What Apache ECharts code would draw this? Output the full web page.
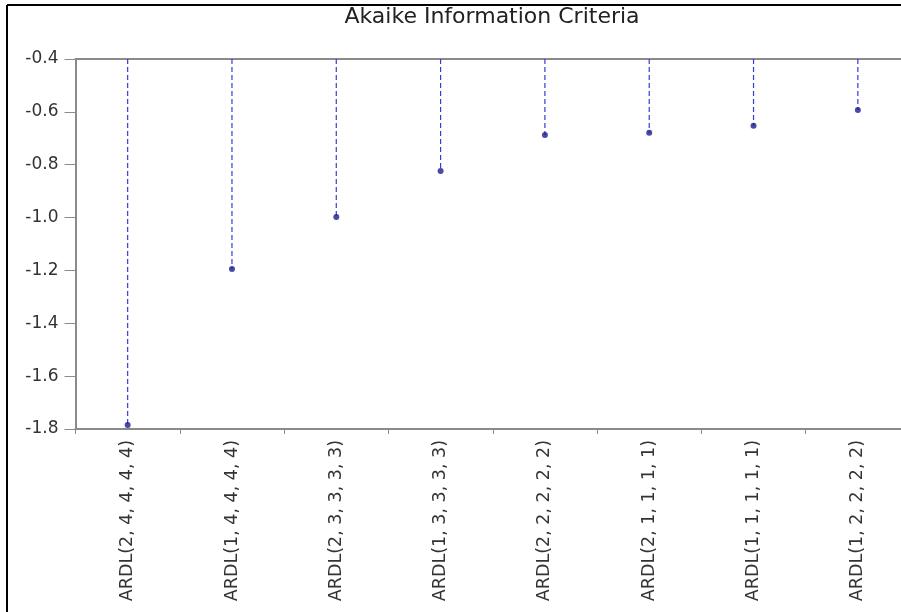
<!DOCTYPE html>
<html>
<head>
<meta charset="utf-8">
<script src="https://cdn.jsdelivr.net/npm/echarts@6/dist/echarts.min.js"></script>
<style>
html,body{margin:0;padding:0;background:#fff;overflow:hidden;width:901px;height:612px;}
#chart{width:912px;height:612px;}
</style>
</head>
<body>
<div id="chart"></div>
<script>
var titleText = 'Akaike Information Criteria';
var categories = ['ARDL(2, 4, 4, 4, 4)', 'ARDL(1, 4, 4, 4, 4)', 'ARDL(2, 3, 3, 3, 3)', 'ARDL(1, 3, 3, 3, 3)',
                  'ARDL(2, 2, 2, 2, 2)', 'ARDL(2, 1, 1, 1, 1)', 'ARDL(1, 1, 1, 1, 1)', 'ARDL(1, 2, 2, 2, 2)'];
var aicValues = [-1.785, -1.195, -0.998, -0.824, -0.688, -0.679, -0.653, -0.593];
var yMin = -1.8;
var yMax = -0.4;
var yStep = 0.2;

var chart = echarts.init(document.getElementById('chart'), null, {renderer: 'canvas'});
var pts = categories.map(function (c, i) { return [i, aicValues[i]]; });

var option = {
  backgroundColor: '#ffffff',
  animation: false,
  grid: {left: 75.5, width: 834.5, top: 59, height: 370, containLabel: false},
  graphic: [
    {type: 'line', shape: {x1: 7, y1: 5, x2: 912, y2: 5}, style: {stroke: '#000', lineWidth: 2}, silent: true},
    {type: 'line', shape: {x1: 7, y1: 5, x2: 7, y2: 612}, style: {stroke: '#000', lineWidth: 2}, silent: true},
    {type: 'text', x: 492, y: 6, style: {text: titleText, fill: '#222', font: '22px "DejaVu Sans"', textAlign: 'center', textVerticalAlign: 'top'}}
  ],
  xAxis: [{
    type: 'category',
    data: categories,
    position: 'bottom',
    boundaryGap: true,
    axisLine: {show: true, lineStyle: {color: '#8a8a8a', width: 2}},
    axisTick: {show: true, length: 5, alignWithLabel: false, lineStyle: {color: '#8a8a8a'}},
    axisLabel: {rotate: 90, margin: 11, color: '#333', fontFamily: 'DejaVu Sans', fontSize: 17.5, interval: 0},
    splitLine: {show: false}
  }, {
    type: 'category',
    data: categories,
    position: 'top',
    axisLine: {show: true, lineStyle: {color: '#8a8a8a', width: 2}},
    axisTick: {show: false},
    axisLabel: {show: false},
    splitLine: {show: false}
  }],
  yAxis: {
    type: 'value',
    min: yMin,
    max: yMax,
    interval: yStep,
    axisLine: {show: true, lineStyle: {color: '#8a8a8a', width: 2}},
    axisTick: {show: true, length: 11, lineStyle: {color: '#8a8a8a'}},
    axisLabel: {margin: 17, color: '#333', fontFamily: 'DejaVu Sans', fontSize: 17,
      formatter: function (v) { return v.toFixed(1); }},
    splitLine: {show: false}
  },
  series: [{
    type: 'custom',
    data: pts,
    renderItem: function (params, api) {
      var top = api.coord([api.value(0), yMax]);
      var p = api.coord([api.value(0), api.value(1)]);
      return {
        type: 'line',
        shape: {x1: top[0], y1: top[1], x2: p[0], y2: p[1]},
        style: {stroke: '#3a3ad8', lineWidth: 1.2, lineDash: [5, 3]}
      };
    },
    z: 2
  }, {
    type: 'scatter',
    data: pts,
    symbol: 'circle',
    symbolSize: 6,
    itemStyle: {color: '#1c1c90'},
    z: 3
  }]
};
chart.setOption(option);
</script>
</body>
</html>
